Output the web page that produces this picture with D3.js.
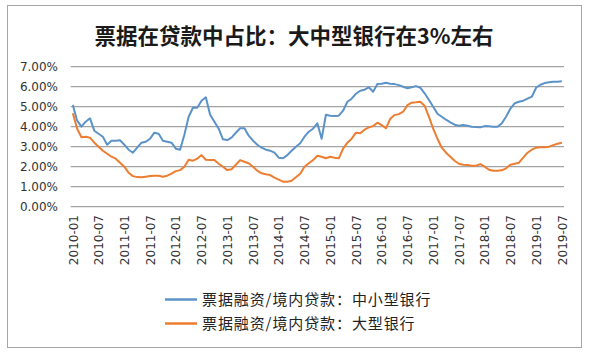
<!DOCTYPE html>
<html><head><meta charset="utf-8">
<script src="https://cdn.jsdelivr.net/npm/d3@7"></script>
<style>html,body{margin:0;padding:0;background:#fff;}svg{display:block;}</style>
</head><body>
<script>
const title = "票据在贷款中占比：大中型银行在3%左右";
const seriesNames = ["票据融资/境内贷款：中小型银行", "票据融资/境内贷款：大型银行"];
const tickLabels = ["2010-01","2010-07","2011-01","2011-07","2012-01","2012-07","2013-01","2013-07","2014-01","2014-07","2015-01","2015-07","2016-01","2016-07","2017-01","2017-07","2018-01","2018-07","2019-01","2019-07"];
const yTicks = [0,1,2,3,4,5,6,7];
const smallMedium = [5.08,4.3,4.0,4.25,4.42,3.8,3.65,3.5,3.1,3.3,3.3,3.32,3.1,2.85,2.7,2.95,3.2,3.25,3.4,3.7,3.65,3.3,3.25,3.2,2.9,2.85,3.6,4.5,4.95,4.95,5.3,5.47,4.6,4.25,3.9,3.37,3.33,3.45,3.7,3.92,3.92,3.55,3.3,3.1,2.95,2.85,2.8,2.7,2.45,2.42,2.58,2.8,3.0,3.17,3.5,3.75,3.9,4.17,3.4,4.6,4.55,4.53,4.55,4.8,5.25,5.4,5.65,5.8,5.85,5.97,5.75,6.13,6.15,6.2,6.15,6.13,6.08,6.0,5.92,5.97,6.03,5.95,5.67,5.35,5.0,4.65,4.5,4.35,4.22,4.1,4.05,4.08,4.05,4.0,3.98,3.97,4.03,4.02,4.0,4.0,4.17,4.5,4.9,5.17,5.25,5.3,5.4,5.5,5.95,6.1,6.18,6.22,6.25,6.25,6.27];
const large = [4.67,3.9,3.47,3.5,3.45,3.2,3.0,2.8,2.65,2.5,2.4,2.2,2.0,1.7,1.53,1.48,1.47,1.5,1.53,1.55,1.55,1.5,1.55,1.65,1.78,1.83,2.0,2.35,2.3,2.4,2.58,2.35,2.33,2.33,2.15,2.0,1.83,1.87,2.1,2.33,2.25,2.17,2.0,1.8,1.67,1.62,1.58,1.45,1.35,1.25,1.25,1.3,1.47,1.65,2.0,2.17,2.33,2.55,2.5,2.42,2.5,2.45,2.42,2.9,3.2,3.4,3.7,3.67,3.85,3.97,4.03,4.2,4.08,3.92,4.4,4.58,4.63,4.75,5.08,5.2,5.22,5.25,5.05,4.5,3.9,3.4,2.95,2.7,2.5,2.3,2.15,2.1,2.08,2.05,2.05,2.13,2.0,1.85,1.8,1.8,1.82,1.92,2.1,2.15,2.2,2.45,2.7,2.85,2.95,2.97,2.97,3.0,3.08,3.15,3.2];

// monthly categories 2010-01 .. 2019-07
const months = [];
for (let y = 2010; y <= 2019; y++) for (let m = 1; m <= 12; m++) {
  if (y === 2019 && m > 7) break;
  months.push(y + "-" + String(m).padStart(2, "0"));
}
const colors = ["#5b93c8", "#ed7d31"];

const W = 589, H = 354;
const svg = d3.select("body").append("svg").attr("width", W).attr("height", H);
svg.append("rect").attr("x", 7.5).attr("y", 5.5).attr("width", 574).attr("height", 342)
  .attr("fill", "#fff").attr("stroke", "#a6a6a6");

svg.append("text").attr("x", 294).attr("y", 44).attr("text-anchor", "middle")
  .style("font-family", "'Noto Sans CJK SC', sans-serif").style("font-weight", "bold")
  .style("font-size", "21.5px").attr("fill", "#1a1a1a").text(title);

const x = d3.scalePoint().domain(months).range([70.7, 564]).padding(0.5);
const y = d3.scaleLinear().domain([0, 7]).range([206.7, 66.7]);

// grid
svg.append("g").selectAll("line").data(yTicks).join("line")
  .attr("x1", 70.7).attr("x2", 564).attr("y1", d => y(d)).attr("y2", d => y(d))
  .attr("stroke", "#a3a3a3").attr("stroke-width", 1.2);

// y axis labels
const yAxis = d3.axisLeft(y).tickValues(yTicks).tickFormat(d => d3.format(".2f")(d) + "%").tickSize(0).tickPadding(0);
const gy = svg.append("g").attr("transform", "translate(58,0)").call(yAxis);
gy.select(".domain").remove();
gy.selectAll("text").style("font-family", "'DejaVu Sans', sans-serif").style("font-size", "12px").attr("fill", "#333");

// x axis labels
const xAxis = d3.axisBottom(x).tickValues(tickLabels).tickSize(0).tickPadding(0);
const gx = svg.append("g").attr("transform", "translate(0,215)").call(xAxis);
gx.select(".domain").remove();
gx.selectAll("text").attr("transform", "rotate(-90)").attr("text-anchor", "end")
  .attr("x", 0).attr("y", 0).attr("dy", "0.35em")
  .style("font-family", "'DejaVu Sans', sans-serif").style("font-size", "12px").attr("fill", "#333");

const line = d3.line().x((d, i) => x(months[i])).y(d => y(d));
[smallMedium, large].forEach((s, k) => {
  svg.append("path").datum(s).attr("d", line).attr("fill", "none")
    .attr("stroke", colors[k]).attr("stroke-width", 2).attr("stroke-linejoin", "round");
});

// legend
const leg = svg.append("g");
seriesNames.forEach((n, k) => {
  const ly = 299.5 + k * 24;
  leg.append("line").attr("x1", 165).attr("x2", 197).attr("y1", ly).attr("y2", ly)
    .attr("stroke", colors[k]).attr("stroke-width", 2.5);
  leg.append("text").attr("x", 202).attr("y", ly + 5.5)
    .style("font-family", "'Noto Sans CJK SC', sans-serif").style("font-size", "15px")
    .style("letter-spacing", "0.9px").attr("fill", "#222").text(n);
});
</script>
</body></html>
